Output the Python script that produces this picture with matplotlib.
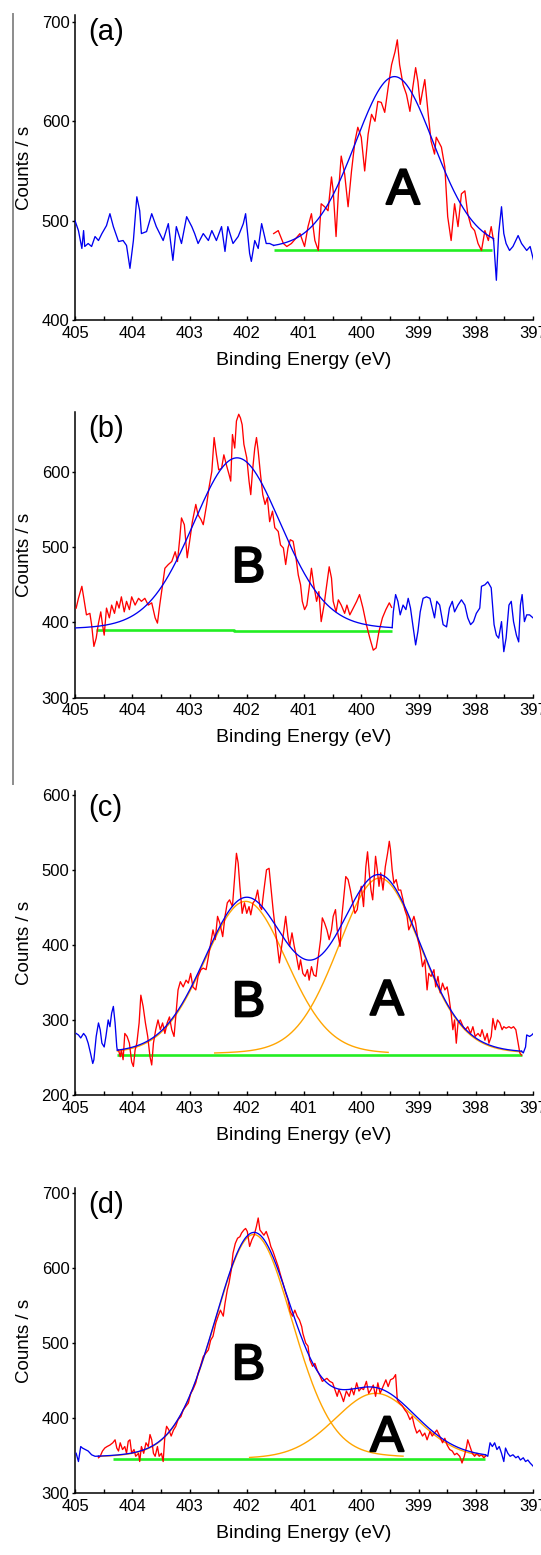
import numpy as np
import matplotlib
matplotlib.use("Agg")
import matplotlib.pyplot as plt
from matplotlib import font_manager
from matplotlib.lines import Line2D
import matplotlib.patheffects as pe

names = {f.name for f in font_manager.fontManager.ttflist}
if "Liberation Sans Narrow" in names:
    NARROW, TICK_SIZE = "Liberation Sans Narrow", 13
else:
    NARROW, TICK_SIZE = "Liberation Sans", 12
plt.rcParams["font.family"] = ["Liberation Sans", "DejaVu Sans"]

# ---------------- data ----------------
# panel (a)
a_energy = [405.00, 404.94, 404.88, 404.85, 404.83, 404.77, 404.71, 404.65, 404.59, 404.53,
            404.45, 404.39, 404.33, 404.24, 404.16, 404.10, 404.04, 403.98, 403.92, 403.87,
            403.84, 403.75, 403.66, 403.58, 403.46, 403.37, 403.29, 403.23, 403.14, 403.05,
            402.96, 402.91, 402.85, 402.76, 402.67, 402.61, 402.53, 402.44, 402.38, 402.33,
            402.24, 402.15, 402.06, 402.02, 401.95, 401.92, 401.86, 401.80, 401.74, 401.66,
            401.60, 401.53, 401.45, 401.36, 401.30, 401.22,
            401.07, 400.99, 400.93, 400.87, 400.81, 400.75, 400.70, 400.64, 400.58, 400.52,
            400.49, 400.44, 400.40, 400.35, 400.29, 400.23, 400.17, 400.11, 400.06, 400.00,
            399.94, 399.88, 399.82, 399.76, 399.71, 399.65, 399.59, 399.53, 399.47, 399.41,
            399.37, 399.33, 399.27, 399.21, 399.15, 399.10, 399.05, 399.01, 398.97, 398.93,
            398.89, 398.83, 398.78, 398.72, 398.69, 398.60, 398.54, 398.49, 398.43, 398.37,
            398.31, 398.25, 398.19, 398.14, 398.08, 398.02, 397.96, 397.90, 397.84, 397.78,
            397.73, 397.69, 397.64, 397.60, 397.55, 397.51, 397.47, 397.41, 397.35, 397.26,
            397.20, 397.11, 397.05, 396.99]
a_counts = [500, 490, 472, 490, 474, 477, 474, 484, 480, 487,
            495, 507, 494, 479, 480, 475, 452, 480, 524, 510,
            487, 489, 507, 494, 480, 497, 460, 494, 477, 504,
            494, 487, 477, 487, 480, 490, 480, 494, 469, 494,
            477, 484, 497, 507, 467, 459, 480, 472, 497, 477,
            477, 487, 490, 477, 474, 477,
            487, 474, 494, 507, 480, 470, 517, 514, 510, 544,
            530, 484, 527, 565, 547, 514, 550, 580, 594, 584,
            550, 587, 607, 600, 620, 619, 609, 634, 657, 670,
            682, 657, 637, 627, 610, 634, 654, 640, 617, 630,
            642, 607, 580, 567, 584, 574, 554, 504, 480, 517,
            494, 527, 530, 507, 494, 490, 477, 470, 490, 480,
            494, 480, 440, 487, 514, 487, 477, 470, 474, 485,
            477, 470, 474, 460]
a_region = [397.69, 401.53]
a_baseline_e = [401.53, 397.72]
a_baseline_c = [470, 470]
a_fit_base = 470
a_centers = [399.42]
a_heights = [175]
a_fwhm = [1.65]
a_comp_ranges = []
a_letters = ["A"]
a_letter_e = [399.27]
a_letter_c = [535]

# panel (b)
b_energy = [404.98, 404.94, 404.88, 404.85, 404.80, 404.74, 404.71, 404.67, 404.63, 404.59,
            404.55, 404.52, 404.49, 404.45, 404.40, 404.36, 404.31, 404.27, 404.23, 404.19,
            404.14, 404.10, 404.05, 404.01, 403.95, 403.89, 403.84, 403.78, 403.72, 403.66,
            403.60, 403.56, 403.52, 403.47, 403.43, 403.37, 403.31, 403.25, 403.21, 403.17,
            403.14, 403.09, 403.04, 402.99, 402.95, 402.89, 402.85, 402.80, 402.76, 402.70,
            402.66, 402.61, 402.57, 402.53, 402.49, 402.44, 402.40, 402.35, 402.31, 402.28,
            402.25, 402.21, 402.18, 402.14, 402.11, 402.08, 402.05, 402.00, 401.96, 401.93,
            401.90, 401.86, 401.83, 401.80, 401.76, 401.72, 401.68, 401.64, 401.60, 401.55,
            401.51, 401.45, 401.41, 401.36, 401.32, 401.28, 401.24, 401.19, 401.14, 401.10,
            401.06, 401.03, 400.99, 400.95, 400.91,
            400.87, 400.83, 400.78, 400.74, 400.70, 400.65, 400.61, 400.56, 400.52, 400.49,
            400.44, 400.40, 400.35, 400.29, 400.25, 400.20, 400.14, 400.08, 400.03, 399.97,
            399.91, 399.85, 399.79, 399.74, 399.69, 399.63, 399.57, 399.51, 399.47,
            399.44, 399.40, 399.36, 399.32, 399.27, 399.22, 399.18, 399.14, 399.10, 399.05,
            399.01, 398.97, 398.92, 398.86, 398.80, 398.76, 398.72, 398.68, 398.63, 398.57,
            398.51, 398.46, 398.41, 398.37, 398.31, 398.25, 398.19, 398.14, 398.09, 398.04,
            397.99, 397.93, 397.90, 397.84, 397.79, 397.73, 397.68, 397.64, 397.60, 397.55,
            397.51, 397.47, 397.42, 397.38, 397.34, 397.29, 397.25, 397.22, 397.19, 397.15,
            397.11, 397.06, 397.00]
b_counts = [419, 432, 448, 434, 410, 412, 397, 368, 379, 399,
            414, 397, 383, 419, 406, 423, 412, 428, 419, 434,
            414, 428, 417, 434, 423, 432, 428, 432, 423, 426,
            406, 399, 423, 450, 472, 477, 481, 494, 481, 512,
            539, 530, 486, 512, 534, 557, 543, 537, 530, 557,
            579, 601, 646, 623, 603, 605, 623, 608, 597, 588,
            650, 632, 668, 677, 672, 663, 637, 619, 588, 570,
            601, 632, 646, 628, 597, 570, 557, 566, 534, 548,
            526, 521, 503, 499, 477, 499, 510, 508, 486, 463,
            450, 428, 417, 423, 446,
            472, 450, 428, 441, 401, 423, 446, 474, 459, 428,
            414, 430, 423, 412, 423, 410, 419, 428, 437, 419,
            397, 379, 363, 366, 388, 406, 417, 426, 420,
            414, 437, 428, 410, 423, 417, 432, 419, 397, 370,
            388, 414, 432, 434, 432, 419, 406, 428, 423, 397,
            394, 419, 428, 414, 423, 430, 423, 406, 397, 401,
            412, 419, 448, 450, 454, 446, 397, 383, 379, 401,
            361, 379, 423, 428, 401, 383, 374, 423, 437, 401,
            410, 410, 406]
b_region = [399.46, 405.00]
b_baseline_e = [404.63, 402.22, 402.22, 399.46]
b_baseline_c = [390, 390, 388, 388]
b_fit_base = 389
b_centers = [402.17]
b_heights = [230]
b_fwhm = [1.84]
b_comp_ranges = []
b_letters = ["B"]
b_letter_e = [401.97]
b_letter_c = [478]

# panel (c)
c_energy = [404.98, 404.94, 404.90, 404.85, 404.81, 404.77, 404.73, 404.69, 404.67, 404.63,
            404.59, 404.56, 404.53, 404.49, 404.46, 404.42, 404.39, 404.36, 404.33, 404.30,
            404.27, 404.24, 404.21, 404.19, 404.16, 404.13, 404.09, 404.05, 404.01, 403.98,
            403.95, 403.92, 403.88, 403.85, 403.81, 403.77, 403.73, 403.69, 403.66, 403.63,
            403.59, 403.55, 403.51, 403.47, 403.43, 403.39, 403.35, 403.31, 403.27, 403.24,
            403.20, 403.16, 403.11, 403.06, 403.02, 402.98, 402.94, 402.89, 402.85, 402.80,
            402.76, 402.71, 402.67, 402.63, 402.59, 402.55, 402.51, 402.47, 402.42, 402.38,
            402.34, 402.30, 402.25, 402.22, 402.18, 402.15, 402.12, 402.08, 402.04, 402.00,
            401.96, 401.93, 401.89, 401.85, 401.81, 401.77, 401.74, 401.70, 401.655, 401.61,
            401.58, 401.54, 401.50, 401.47, 401.43, 401.39, 401.35, 401.32, 401.28, 401.25,
            401.21, 401.17, 401.13, 401.09, 401.06, 401.02, 400.98, 400.94, 400.91,
            400.87, 400.83, 400.79, 400.75, 400.71, 400.68, 400.64, 400.60, 400.56, 400.52,
            400.49, 400.45, 400.42, 400.37, 400.35, 400.31, 400.27, 400.23, 400.19, 400.15,
            400.11, 400.07, 400.04, 400.00, 399.96, 399.92, 399.89, 399.86, 399.83, 399.80,
            399.78, 399.75, 399.72, 399.69, 399.66, 399.62, 399.58, 399.54, 399.51, 399.49,
            399.46, 399.43, 399.39, 399.35, 399.31, 399.27, 399.24, 399.20, 399.17, 399.12,
            399.08, 399.05, 399.01, 398.97, 398.93, 398.89, 398.85, 398.82, 398.78, 398.73,
            398.70, 398.66, 398.62, 398.58, 398.54, 398.50, 398.47, 398.43, 398.40, 398.37,
            398.34, 398.31, 398.27, 398.22, 398.18, 398.14, 398.09, 398.05, 398.01, 397.96,
            397.92, 397.89, 397.84, 397.80, 397.77, 397.73, 397.70, 397.66, 397.62, 397.58,
            397.54, 397.51, 397.47, 397.42, 397.38, 397.34, 397.30, 397.26, 397.23, 397.20,
            397.17, 397.13, 397.11, 397.06, 397.02, 396.97]
c_counts = [282, 280, 276, 282, 278, 269, 256, 242, 247, 278,
            296, 287, 269, 264, 278, 300, 291, 309, 318, 296,
            264, 260, 251, 260, 247, 282, 278, 269, 244, 238,
            260, 269, 296, 333, 318, 296, 278, 251, 240, 269,
            287, 300, 287, 296, 282, 296, 304, 287, 278, 304,
            340, 351, 344, 353, 349, 362, 344, 340, 358, 367,
            369, 367, 384, 402, 420, 407, 438, 429, 411, 438,
            456, 460, 451, 482, 522, 509, 478, 442, 456, 442,
            451, 440, 456, 460, 473, 451, 447, 473, 500, 502,
            478, 447, 420, 402, 376, 398, 420, 438, 411, 398,
            416, 398, 384, 367, 380, 362, 358, 367, 353,
            371, 360, 358, 384, 407, 436, 429, 420, 407, 420,
            438, 447, 420, 398, 429, 460, 491, 487, 473, 456,
            442, 447, 464, 478, 451, 504, 524, 496, 473, 460,
            482, 518, 500, 478, 496, 473, 504, 522, 538, 527,
            500, 482, 487, 473, 473, 460, 447, 438, 420, 429,
            438, 429, 407, 393, 371, 380, 340, 362, 358, 367,
            344, 358, 336, 349, 340, 344, 331, 309, 287, 300,
            269, 296, 300, 291, 287, 291, 282, 291, 278, 282,
            278, 287, 273, 282, 269, 278, 302, 287, 300, 296,
            287, 291, 289, 291, 289, 291, 287, 269, 256, 253,
            256, 264, 280, 278, 280, 284]
c_region = [397.20, 404.26]
c_baseline_e = [404.26, 397.20]
c_baseline_c = [253, 253]
c_fit_base = 253
c_centers = [402.02, 399.68]
c_heights = [205, 236]
c_fwhm = [1.72, 1.72]
c_comp_ranges = [[399.53, 404.26], [397.20, 402.56]]
c_letters = ["B", "A"]
c_letter_e = [401.97, 399.55]
c_letter_c = [329, 331]

# panel (d)
d_energy = [404.98, 404.94, 404.90, 404.87, 404.82, 404.77, 404.71, 404.65, 404.59,
            404.56, 404.52, 404.48, 404.44, 404.39, 404.34, 404.30, 404.27, 404.24, 404.21,
            404.17, 404.13, 404.10, 404.07, 404.04, 404.01, 403.97, 403.94, 403.89, 403.87,
            403.84, 403.80, 403.76, 403.72, 403.69, 403.66, 403.63, 403.60, 403.56, 403.53,
            403.49, 403.46, 403.43, 403.40, 403.36, 403.32, 403.28, 403.24, 403.20, 403.15,
            403.11, 403.06, 403.02, 402.98, 402.94, 402.89, 402.85, 402.81, 402.76, 402.71,
            402.67, 402.63, 402.59, 402.54, 402.50, 402.46, 402.41, 402.38, 402.34, 402.31,
            402.27, 402.24, 402.20, 402.16, 402.12, 402.09, 402.05, 402.02, 401.99, 401.95,
            401.91, 401.87, 401.83, 401.80, 401.77, 401.73, 401.70, 401.66, 401.61, 401.58,
            401.54, 401.50, 401.45, 401.41, 401.36, 401.32, 401.28, 401.24, 401.20, 401.16,
            401.12, 401.08, 401.04, 401.02, 400.97, 400.93,
            400.90, 400.85, 400.81, 400.77, 400.72, 400.68, 400.64, 400.60, 400.55, 400.50,
            400.46, 400.42, 400.39, 400.35, 400.31, 400.26, 400.21, 400.17, 400.13, 400.08,
            400.04, 400.00, 399.96, 399.91, 399.87, 399.83, 399.79, 399.75, 399.71, 399.67,
            399.62, 399.57, 399.53, 399.49, 399.44, 399.40, 399.37, 399.33, 399.28, 399.24,
            399.20, 399.15, 399.11, 399.07, 399.03, 398.98, 398.93, 398.89, 398.85, 398.80,
            398.76, 398.72, 398.68, 398.63, 398.58, 398.54, 398.50, 398.455, 398.41, 398.37,
            398.33, 398.28, 398.24, 398.20, 398.16, 398.14, 398.10, 398.06, 398.02, 397.98,
            397.94, 397.90, 397.86, 397.83,
            397.79, 397.75, 397.71, 397.67, 397.63, 397.59, 397.55, 397.51, 397.48, 397.44,
            397.40, 397.35, 397.30, 397.26, 397.22, 397.17, 397.13, 397.09, 397.05, 397.00,
            396.95]
d_counts = [353, 342, 362, 360, 358, 356, 351, 349, 347,
            349, 356, 360, 362, 364, 367, 371, 360, 356, 367,
            358, 362, 353, 369, 371, 353, 358, 349, 353, 342,
            362, 353, 367, 362, 378, 371, 353, 349, 362, 349,
            353, 342, 376, 389, 384, 376, 384, 389, 398, 402,
            411, 416, 420, 433, 438, 447, 460, 469, 482, 487,
            491, 504, 509, 527, 536, 544, 536, 553, 571, 580,
            598, 620, 633, 640, 642, 647, 651, 653, 649, 629,
            638, 644, 656, 667, 651, 647, 644, 649, 638, 629,
            622, 613, 602, 591, 578, 567, 558, 542, 536, 544,
            536, 531, 522, 513, 500, 496,
            478, 469, 473, 464, 456, 449, 451, 453, 449, 447,
            438, 429, 438, 431, 422, 436, 429, 440, 431, 447,
            436, 440, 438, 449, 433, 438, 444, 429, 447, 433,
            442, 451, 442, 451, 453, 458, 424, 420, 416, 411,
            407, 398, 402, 389, 380, 384, 376, 380, 371, 382,
            376, 380, 384, 376, 367, 373, 364, 358, 356, 351,
            353, 349, 340, 349, 362, 371, 362, 353, 349, 353,
            349, 351, 347, 349,
            349, 367, 362, 367, 358, 362, 353, 342, 360, 353,
            349, 351, 347, 349, 344, 347, 342, 344, 340, 336,
            331]
d_region = [397.83, 404.59]
d_baseline_e = [404.33, 397.83]
d_baseline_c = [345, 345]
d_fit_base = 345
d_centers = [401.88, 399.75]
d_heights = [300, 88]
d_fwhm = [1.62, 1.70]
d_comp_ranges = [[399.27, 404.59], [397.83, 401.95]]
d_letters = ["B", "A"]
d_letter_e = [401.97, 399.55]
d_letter_c = [476, 380]

panel_tags = ["(a)", "(b)", "(c)", "(d)"]
ylims = [(400, 707), (300, 680), (200, 605), (300, 707)]
yticks = [[400, 500, 600, 700], [300, 400, 500, 600], [200, 300, 400, 500, 600], [300, 400, 500, 600, 700]]
xticks_major = [405, 404, 403, 402, 401, 400, 399, 398, 397]
x_label = "Binding Energy (eV)"
y_label = "Counts / s"
LORENTZ_FRACTION = 0.15

panels = [
    dict(E=a_energy, C=a_counts, region=a_region, be=a_baseline_e, bc=a_baseline_c, base=a_fit_base,
         cen=a_centers, hgt=a_heights, fw=a_fwhm, comp=a_comp_ranges, let=a_letters, le=a_letter_e, lc=a_letter_c),
    dict(E=b_energy, C=b_counts, region=b_region, be=b_baseline_e, bc=b_baseline_c, base=b_fit_base,
         cen=b_centers, hgt=b_heights, fw=b_fwhm, comp=b_comp_ranges, let=b_letters, le=b_letter_e, lc=b_letter_c),
    dict(E=c_energy, C=c_counts, region=c_region, be=c_baseline_e, bc=c_baseline_c, base=c_fit_base,
         cen=c_centers, hgt=c_heights, fw=c_fwhm, comp=c_comp_ranges, let=c_letters, le=c_letter_e, lc=c_letter_c),
    dict(E=d_energy, C=d_counts, region=d_region, be=d_baseline_e, bc=d_baseline_c, base=d_fit_base,
         cen=d_centers, hgt=d_heights, fw=d_fwhm, comp=d_comp_ranges, let=d_letters, le=d_letter_e, lc=d_letter_c),
]


def peak(x, c, h, w, eta=LORENTZ_FRACTION):
    d2 = 4.0 * (x - c) ** 2 / w ** 2
    return h * ((1 - eta) * np.exp(-np.log(2) * d2) + eta / (1 + d2))


# ---------------- layout (pixels, top-left origin) ----------------
W, H = 541, 1555
fig = plt.figure(figsize=(W / 100, H / 100), dpi=100)
ax_left, ax_right = 75, 533
ax_tops = [15, 412, 791, 1188]
ax_bots = [320, 697.5, 1095, 1493]

RED = "#ff0000"
BLUE = "#0000f0"
GREEN = "#22ee22"
ORANGE = "#ffa500"

for i, p in enumerate(panels):
    ax = fig.add_axes([ax_left / W, 1 - ax_bots[i] / H, (ax_right - ax_left) / W, (ax_bots[i] - ax_tops[i]) / H])
    E = np.array(p["E"], float)
    C = np.array(p["C"], float)
    lo, hi = p["region"]

    def model(x):
        y = np.full_like(x, float(p["base"]))
        for c, h, w in zip(p["cen"], p["hgt"], p["fw"]):
            y = y + peak(x, c, h, w)
        return y

    ax.plot(p["be"], p["bc"], color=GREEN, lw=1.9, solid_capstyle="butt", zorder=2)
    for (clo, chi), c, h, w in zip(p["comp"], p["cen"], p["hgt"], p["fw"]):
        xx = np.linspace(chi, clo, 300)
        ax.plot(xx, p["base"] + peak(xx, c, h, w), color=ORANGE, lw=1.0, zorder=3)
    m = (E >= lo) & (E <= hi)
    ax.plot(E[m], C[m], color=RED, lw=0.95, zorder=4)
    xf = np.linspace(hi, lo, 500)
    ax.plot(xf, model(xf), color=BLUE, lw=0.95, zorder=5)
    left = E > hi
    if left.any():
        ax.plot(np.r_[E[left], hi], np.r_[C[left], model(np.array([hi]))], color=BLUE, lw=0.95, zorder=5)
    right = E < lo
    if right.any():
        ax.plot(np.r_[lo, E[right]], np.r_[model(np.array([lo])), C[right]], color=BLUE, lw=0.95, zorder=5)

    for t, le, lc in zip(p["let"], p["le"], p["lc"]):
        ax.annotate(t, (le, lc), xytext=(0, -13), textcoords="offset points",
                    ha="center", va="baseline", fontsize=36, color="black", zorder=6,
                    path_effects=[pe.withStroke(linewidth=1.6, foreground="black")])
    ax.annotate(panel_tags[i], (0, 1), xycoords="axes fraction", xytext=(9.5, -18),
                textcoords="offset points", ha="left", va="baseline", fontsize=21)

    ax.set_xlim(405, 397)
    ax.set_ylim(*ylims[i])
    ax.set_xticks(xticks_major)
    ax.set_xticklabels([str(v) for v in xticks_major])
    ax.set_xticks(np.arange(397, 405.01, 0.5), minor=True)
    ax.set_yticks(yticks[i])
    ax.set_yticklabels([str(v) for v in yticks[i]])
    for s in ["top", "right"]:
        ax.spines[s].set_visible(False)
    for s in ["left", "bottom"]:
        ax.spines[s].set_linewidth(1.1)
        ax.spines[s].set_color("black")
    ax.tick_params(axis="x", which="both", direction="in", length=3, width=1.0, pad=4)
    ax.tick_params(axis="y", which="major", direction="out", length=2.5, width=1.0, pad=1.5)
    for lab in ax.get_xticklabels() + ax.get_yticklabels():
        lab.set_fontfamily(NARROW)
        lab.set_fontsize(TICK_SIZE)
    ax.set_xlabel(x_label, fontsize=14, labelpad=8)
    ax.set_ylabel(y_label, fontsize=13.5)
    ax.yaxis.set_label_coords(-0.092, 0.5)
    ax.set_facecolor("none")

fig.add_artist(Line2D([13 / W, 13 / W], [1 - 14 / H, 1 - 784 / H], color="#8c8c8c", lw=1.4))

fig.savefig("out.png", dpi=100, facecolor="white")
